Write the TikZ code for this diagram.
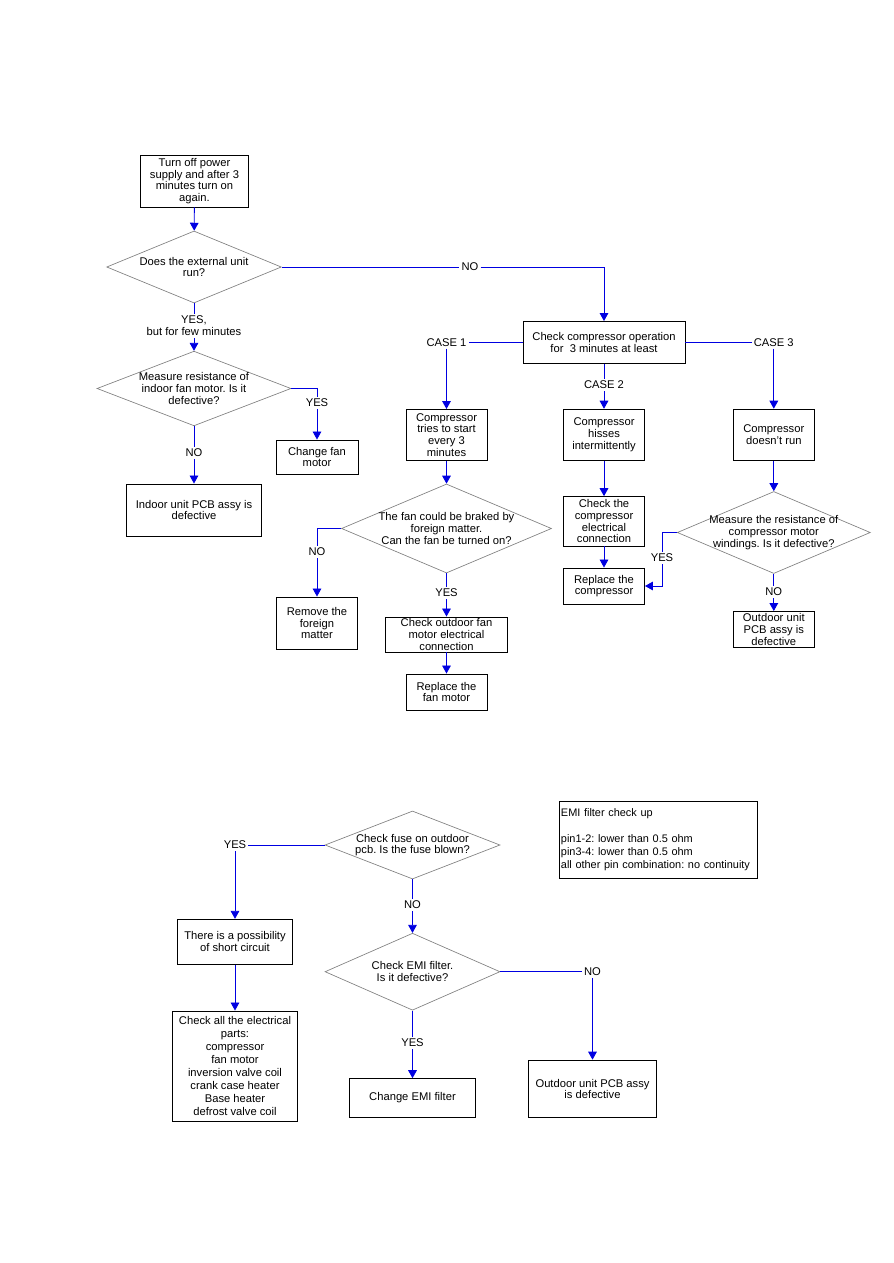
\documentclass[tikz,border=0pt]{standalone}
\usepackage{fontspec}
\setmainfont{Liberation Sans}
\usetikzlibrary{shapes.geometric,arrows.meta,positioning}
\definecolor{flowblue}{RGB}{0,0,225}
\frenchspacing

\begin{document}
\begin{tikzpicture}[
    x=0.75pt, y=-0.75pt,
    font=\fontsize{8.4}{8.8}\selectfont,
    box/.style={rectangle, draw, line width=0.7pt, align=center, inner sep=1pt},
    decision/.style={diamond, draw=gray, line width=0.5pt, align=center, inner sep=-3pt, aspect=2.4},
    lbl/.style={inner sep=1.5pt, align=center},
    flow/.style={color=flowblue, line width=0.65pt},
    arrow/.style={flow, -{Triangle[length=6pt,width=6.5pt]}}
]
\useasboundingbox (0,0) rectangle (893,1263);

% Power reset and first check
\node[box, minimum width=81pt, minimum height=39pt] (start) at (194.5,181) {Turn off power\\supply and after 3\\minutes turn on\\again.};
\node[decision, minimum width=131pt, minimum height=54pt] (d1) at (194,267) {Does the external unit\\run?};
\node[lbl] (yes1) at (194,326) {YES,\\but for few minutes};
\node[lbl] (no1) at (470,267) {NO};

% Indoor fan motor branch
\node[decision, minimum width=145.5pt, minimum height=56pt] (d2) at (194,388.5) {Measure resistance of\\indoor fan motor. Is it\\defective?};
\node[lbl] (yes2) at (317,403) {YES};
\node[box, minimum width=61.5pt, minimum height=25.5pt] (fanm) at (317,457) {Change fan\\motor};
\node[lbl] (no2) at (194,453) {NO};
\node[box, minimum width=101pt, minimum height=39pt] (pcb1) at (194,510) {Indoor unit PCB assy is\\defective};

% Compressor check and cases
\node[box, minimum width=121.5pt, minimum height=31.5pt] (chk) at (604,342.5) {Check compressor operation\\for~ 3 minutes at least};
\node[lbl] (case1) at (446.5,342.5) {CASE 1};
\node[lbl] (case2) at (604,385) {CASE 2};
\node[lbl] (case3) at (773.8,342.5) {CASE 3};

% Case 1
\node[box, minimum width=60.75pt, minimum height=38.25pt] (tries) at (446.5,435) {Compressor\\tries to start\\every 3\\minutes};
\node[decision, minimum width=157.5pt, minimum height=66.75pt] (d3) at (446.5,528.5) {The fan could be braked by\\foreign matter.\\Can the fan be turned on?};
\node[lbl] (no3) at (317,552) {NO};
\node[box, minimum width=60.75pt, minimum height=39pt] (remove) at (317,623) {Remove the\\foreign\\matter};
\node[lbl] (yes3) at (446.5,593) {YES};
\node[box, minimum width=91.5pt, minimum height=26.25pt] (outfan) at (446.5,634.5) {Check outdoor fan\\motor electrical\\connection};
\node[box, minimum width=60.75pt, minimum height=27pt] (repfan) at (446.5,692) {Replace the\\fan motor};

% Case 2
\node[box, minimum width=60.75pt, minimum height=38.25pt] (hiss) at (604,434.7) {Compressor\\hisses\\intermittently};
\node[box, minimum width=60.75pt, minimum height=37pt] (chkcomp) at (604,521.3) {Check the\\compressor\\electrical\\connection};
\node[box, minimum width=60.75pt, minimum height=27pt] (repcomp) at (604,586) {Replace the\\compressor};

% Case 3
\node[box, minimum width=60.75pt, minimum height=38.25pt] (norun) at (773.8,434.7) {Compressor\\doesn't run};
\node[decision, minimum width=144.75pt, minimum height=61.5pt] (d4) at (773.8,532.5) {Measure the resistance of\\compressor motor\\windings. Is it defective?};
\node[lbl] (yes4) at (662,558) {YES};
\node[lbl] (no4) at (773.8,592) {NO};
\node[box, minimum width=60.75pt, minimum height=27pt] (pcb2) at (773.8,629.5) {Outdoor unit\\PCB assy is\\defective};

% Fuse and EMI filter
\node[decision, minimum width=131.25pt, minimum height=51pt] (d5) at (412.5,845) {Check fuse on outdoor\\pcb. Is the fuse blown?};
\node[lbl] (yes5) at (235,845) {YES};
\node[box, minimum width=86.25pt, minimum height=33.75pt] (short) at (235,941.8) {There is a possibility\\of short circuit};
\node[box, minimum width=94.2pt, minimum height=82.5pt, font=\fontsize{8.4}{9.75}\selectfont] (all) at (235,1066) {Check all the electrical\\parts:\\compressor\\fan motor\\inversion valve coil\\crank case heater\\Base heater\\defrost valve coil};
\node[lbl] (no5) at (412.5,905) {NO};
\node[decision, minimum width=131.25pt, minimum height=57.75pt] (d6) at (412.5,971.7) {Check EMI filter.\\Is it defective?};
\node[lbl] (yes6) at (412.5,1043) {YES};
\node[box, minimum width=94.5pt, minimum height=29pt] (emi) at (412.5,1098) {Change EMI filter};
\node[lbl] (no6) at (592.5,971.7) {NO};
\node[box, minimum width=96pt, minimum height=43.3pt] (pcb3) at (592.5,1089) {Outdoor unit PCB assy\\is defective};
\node[box, minimum height=58pt, text width=146pt, inner xsep=1.5pt, align=left, font=\fontsize{8.2}{10}\selectfont] (note) at (658.3,839.7) {EMI filter check up\\[9.3pt]pin1-2: lower than 0.5 ohm\\pin3-4: lower than 0.5 ohm\\all other pin combination: no continuity};

% Connectors, top part
\draw[arrow] (start) -- (d1);
\draw[flow] (d1) -- (yes1);
\draw[arrow] (yes1) -- (d2);
\draw[flow] (d1) -- (no1);
\draw[arrow] (no1) -| (chk);
\draw[flow] (d2.east) -| (yes2);
\draw[arrow] (yes2) -- (fanm);
\draw[flow] (d2) -- (no2);
\draw[arrow] (no2) -- (pcb1);

% Connectors, cases
\draw[flow] (chk) -- (case1);
\draw[arrow] (case1) -- (tries);
\draw[arrow] (tries) -- (d3);
\draw[flow] (d3.west) -| (no3);
\draw[arrow] (no3) -- (remove);
\draw[flow] (d3) -- (yes3);
\draw[arrow] (yes3) -- (outfan);
\draw[arrow] (outfan) -- (repfan);
\draw[flow] (chk) -- (case2);
\draw[arrow] (case2) -- (hiss);
\draw[arrow] (hiss) -- (chkcomp);
\draw[arrow] (chkcomp) -- (repcomp);
\draw[flow] (chk) -- (case3);
\draw[arrow] (case3) -- (norun);
\draw[arrow] (norun) -- (d4);
\draw[flow] (d4.west) -| (yes4);
\draw[arrow] (yes4) |- (repcomp);
\draw[flow] (d4) -- (no4);
\draw[arrow] (no4) -- (pcb2);

% Connectors, bottom part
\draw[flow] (d5) -- (yes5);
\draw[arrow] (yes5) -- (short);
\draw[arrow] (short) -- (all);
\draw[flow] (d5) -- (no5);
\draw[arrow] (no5) -- (d6);
\draw[flow] (d6) -- (no6);
\draw[arrow] (no6) -- (pcb3);
\draw[flow] (d6) -- (yes6);
\draw[arrow] (yes6) -- (emi);

\end{tikzpicture}
\end{document}
